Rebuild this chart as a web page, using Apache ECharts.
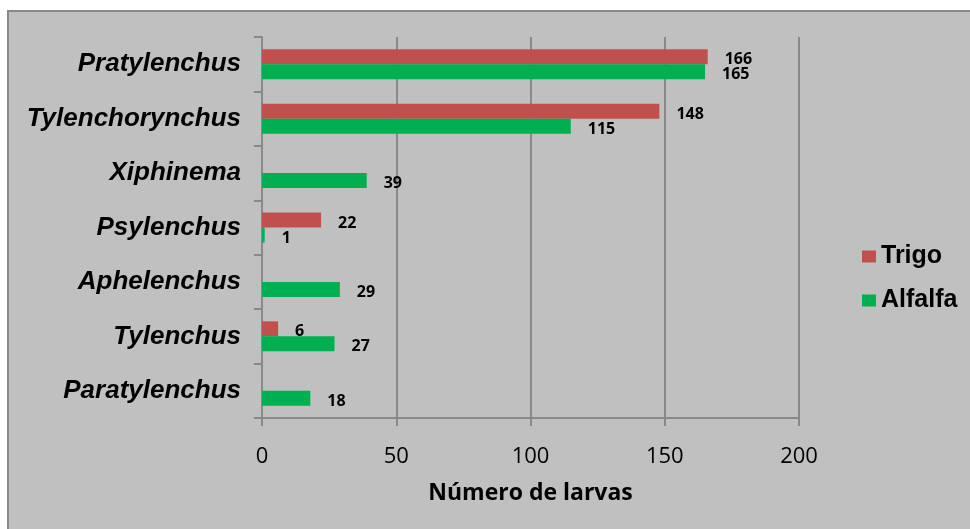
<!DOCTYPE html>
<html>
<head>
<meta charset="utf-8">
<script src="https://cdn.jsdelivr.net/npm/echarts@6/dist/echarts.min.js"></script>
<style>html,body{margin:0;padding:0;background:#fff;}#c{width:970px;height:529px;}</style>
</head>
<body>
<div id="c"></div>
<script>
const categories = ['Pratylenchus','Tylenchorynchus','Xiphinema','Psylenchus','Aphelenchus','Tylenchus','Paratylenchus'];
const trigo = [166, 148, null, 22, null, 6, null];
const alfalfa = [165, 115, 39, 1, 29, 27, 18];
const xTicks = {min: 0, max: 200, interval: 50};
const seriesNames = ['Trigo', 'Alfalfa'];

const chart = echarts.init(document.getElementById('c'), null, {renderer: 'canvas'});
const labelStyle = {
  show: true, position: 'right', distance: 17,
  fontFamily: 'Open Sans', fontWeight: 'bold', fontSize: 16, color: '#000',
  offset: [0, 3]
};
chart.setOption({
  animation: false,
  backgroundColor: '#fff',
  graphic: [{
    type: 'rect', z: -10, silent: true,
    shape: {x: 8, y: 11, width: 970, height: 530},
    style: {fill: '#C0C0C0', stroke: '#898989', lineWidth: 2}
  }],
  grid: {left: 262, right: 171, top: 37, bottom: 111, containLabel: false},
  legend: {
    orient: 'vertical', left: 857, top: 239, itemGap: 19,
    icon: 'rect', itemWidth: 14, itemHeight: 12,
    textStyle: {fontFamily: 'Liberation Sans', fontWeight: 'bold', fontSize: 25, color: '#000'},
    data: seriesNames
  },
  xAxis: {
    type: 'value', min: xTicks.min, max: xTicks.max, interval: xTicks.interval,
    name: 'Número de larvas', nameLocation: 'middle', nameGap: 64,
    nameTextStyle: {fontFamily: 'Open Sans', fontWeight: 'bold', fontSize: 23, color: '#000'},
    axisLine: {show: true, lineStyle: {color: '#898989', width: 2}},
    axisTick: {show: true, length: 8, lineStyle: {color: '#898989', width: 2}},
    axisLabel: {margin: 28, fontFamily: 'Open Sans', fontSize: 22, color: '#000'},
    splitLine: {show: true, lineStyle: {color: '#898989', width: 2}}
  },
  yAxis: {
    type: 'category', data: categories, inverse: true,
    axisLine: {show: true, lineStyle: {color: '#898989', width: 2}},
    axisTick: {show: true, length: 8, lineStyle: {color: '#898989', width: 2}},
    axisLabel: {margin: 21, padding: [4, 0, 0, 0], fontFamily: 'Liberation Sans', fontWeight: 'bold', fontStyle: 'italic', fontSize: 26, color: '#000'}
  },
  series: [
    {name: seriesNames[0], type: 'bar', data: trigo, barWidth: 15, barGap: '0%', barCategoryGap: '45%',
     itemStyle: {color: '#C0504D'}, label: labelStyle},
    {name: seriesNames[1], type: 'bar', data: alfalfa, barWidth: 15, barGap: '0%', barCategoryGap: '45%',
     itemStyle: {color: '#00B050'}, label: labelStyle}
  ]
});
</script>
</body>
</html>
